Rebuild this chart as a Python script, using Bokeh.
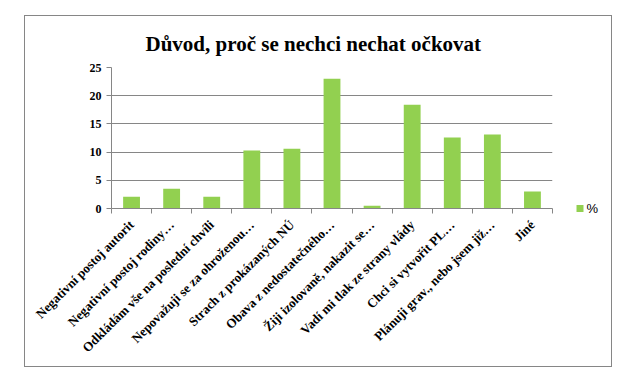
from bokeh.plotting import figure
from bokeh.models import (Range1d, FixedTicker, LinearAxis, ColumnDataSource)
from bokeh.embed import file_html
from bokeh.resources import INLINE
import math

title = "Důvod, proč se nechci nechat očkovat"
categories = [
    "Negativní postoj autorit",
    "Negativní postoj rodiny…",
    "Odkládám vše na poslední chvíli",
    "Nepovažuji se za ohroženou…",
    "Strach z prokázaných NÚ",
    "Obava z nedostatečného…",
    "Žiji izolovaně, nakazit se…",
    "Vadí mi tlak ze strany vlády",
    "Chci si vytvořit PL…",
    "Plánuji grav., nebo jsem již…",
    "Jiné",
]
values = [2.1, 3.5, 2.1, 10.3, 10.6, 23.0, 0.5, 18.4, 12.6, 13.1, 3.0]
series_name = "%"
y_ticks = [0, 5, 10, 15, 20, 25]

GREEN = "#92D050"
GRAY = "#868686"
SERIF = "Liberation Serif"

n = len(categories)
positions = list(range(1, n + 1))
src = ColumnDataSource(dict(x=positions, top=values, cat=categories))

# figure covers the chart box (25..611 x 16..366 in page pixels)
p = figure(width=586, height=350, output_backend="svg", toolbar_location=None,
           x_range=Range1d(0.5, n + 0.5), y_range=Range1d(0, 25),
           min_border_left=86, min_border_right=59, min_border_top=51,
           min_border_bottom=158, margin=(16, 0, 0, 25))
p.outline_line_color = None
p.background_fill_color = "white"
p.border_fill_color = "white"
p.styles = {"outline": "1px solid #868686", "outline-offset": "0px"}

p.title.text = title
p.title.align = "left"
p.title.offset = 34
p.title.text_font = SERIF
p.title.text_font_style = "bold"
p.title.text_font_size = "21px"
p.title.text_color = "black"
p.title.standoff = 24

r = p.vbar(x="x", top="top", width=0.42, bottom=0, source=src,
           fill_color=GREEN, line_color=None)

# x axis
xa = p.xaxis[0]
xa.ticker = FixedTicker(ticks=positions, minor_ticks=[i + 0.5 for i in range(0, n + 1)])
xa.major_label_overrides = {pos: c for pos, c in zip(positions, categories)}
xa.major_label_orientation = math.pi / 4
xa.major_tick_out = 0
xa.major_tick_in = 0
xa.minor_tick_out = 5
xa.minor_tick_in = 0
xa.minor_tick_line_color = GRAY
xa.axis_line_color = GRAY
xa.major_label_text_font = SERIF
xa.major_label_text_font_style = "bold"
xa.major_label_text_font_size = "13px"
xa.major_label_text_color = "black"
xa.major_label_standoff = 9

# y axis
ya = p.yaxis[0]
ya.ticker = FixedTicker(ticks=y_ticks, minor_ticks=[])
ya.major_tick_out = 5
ya.major_tick_in = 0
ya.major_tick_line_color = GRAY
ya.axis_line_color = GRAY
ya.major_label_text_font = SERIF
ya.major_label_text_font_style = "bold"
ya.major_label_text_font_size = "12px"
ya.major_label_text_color = "black"
ya.major_label_standoff = 5

p.xgrid.grid_line_color = None
p.ygrid.grid_line_color = GRAY
p.ygrid.grid_line_width = 1
p.ygrid.ticker = FixedTicker(ticks=y_ticks[1:])

# legend entry for the series (green key + "%"), drawn as a right-side key
p.extra_y_ranges = {"legend": Range1d(0, 1)}
key = LinearAxis(y_range_name="legend", ticker=FixedTicker(ticks=[0], minor_ticks=[]),
                 major_label_overrides={0: series_name},
                 axis_line_color=None,
                 major_tick_in=-24, major_tick_out=31,
                 major_tick_line_color=GREEN, major_tick_line_width=7,
                 major_tick_line_cap="butt",
                 minor_tick_out=0, minor_tick_in=0,
                 major_label_standoff=3,
                 major_label_text_font="Liberation Sans",
                 major_label_text_font_size="13px",
                 major_label_text_color="black")
p.add_layout(key, "right")

open("out.html", "w").write(file_html(p, INLINE))
